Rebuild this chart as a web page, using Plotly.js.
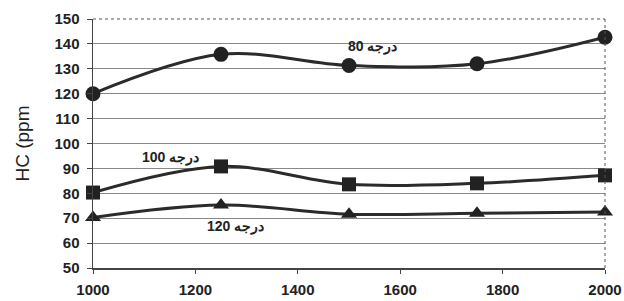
<!DOCTYPE html>
<html><head><meta charset="utf-8">
<script src="https://cdn.plot.ly/plotly-3.0.1.min.js"></script>
<style>html,body{margin:0;padding:0;background:#fff;}</style>
</head><body>
<div id="chart" style="width:624px;height:301px;"></div>
<script>
const rpm = [1000, 1250, 1500, 1750, 2000];
const hc80 = [120, 135.8, 131.3, 132, 142.7];
const hc100 = [80.3, 90.8, 83.6, 84, 87.2];
const hc120 = [70.3, 75.3, 71.6, 72, 72.5];
const labels = ['80 درجه', '100 درجه', '120 درجه'];
const xTicks = [1000, 1200, 1400, 1600, 1800, 2000];
const yTicks = [50, 60, 70, 80, 90, 100, 110, 120, 130, 140, 150];

const lineStyle = {color: '#2b2b2b', width: 3, shape: 'spline', smoothing: 1};
function tr(y, sym, sz) {
  return {x: rpm, y: y, mode: 'lines+markers', line: lineStyle,
    marker: {symbol: sym, size: sz, color: '#222'}, showlegend: false, hoverinfo: 'none', cliponaxis: false};
}
const data = [tr(hc80, 'circle', 15), tr(hc100, 'square', 14), tr(hc120, 'triangle-up', 14)];

const tf = {size: 15, family: 'Liberation Sans, Arial', weight: 'bold', color: '#222'};
const layout = {
  width: 624, height: 301,
  margin: {l: 93, r: 19, t: 19, b: 33},
  paper_bgcolor: '#fff', plot_bgcolor: '#fff',
  font: {family: 'Liberation Sans, Arial, sans-serif', color: '#222'},
  xaxis: {range: [1000, 2000], tickvals: xTicks, ticktext: xTicks.map(String),
    showgrid: false, zeroline: false, showline: true, linecolor: '#444', linewidth: 1.5,
    ticks: 'outside', ticklen: 4, tickcolor: '#444', ticklabelstandoff: 3,
    tickfont: tf},
  yaxis: {range: [50, 150], tickvals: yTicks, ticktext: yTicks.map(String),
    showgrid: true, gridcolor: '#888', gridwidth: 1, zeroline: false,
    showline: true, linecolor: '#444', linewidth: 1.5,
    ticks: 'outside', ticklen: 5, tickcolor: '#444', ticklabelstandoff: 4,
    tickfont: tf,
    title: {text: 'HC (ppm', font: {size: 19, color: '#222'}, standoff: 20}},
  shapes: [
    {type: 'line', xref: 'paper', yref: 'paper', x0: 0, x1: 1, y0: 1, y1: 1, line: {color: '#555', width: 1, dash: 'dot'}},
    {type: 'line', xref: 'paper', yref: 'paper', x0: 1, x1: 1, y0: 0, y1: 1, line: {color: '#555', width: 1, dash: 'dot'}}
  ],
  annotations: [
    {x: 1545, y: 139, text: labels[0], showarrow: false, font: {size: 14, weight: 'bold', color: '#222'}},
    {x: 1152, y: 94.5, text: labels[1], showarrow: false, font: {size: 14, weight: 'bold', color: '#222'}},
    {x: 1278, y: 66.5, text: labels[2], showarrow: false, font: {size: 14, weight: 'bold', color: '#222'}}
  ]
};
Plotly.newPlot('chart', data, layout, {staticPlot: true, displayModeBar: false});
</script>
</body></html>
